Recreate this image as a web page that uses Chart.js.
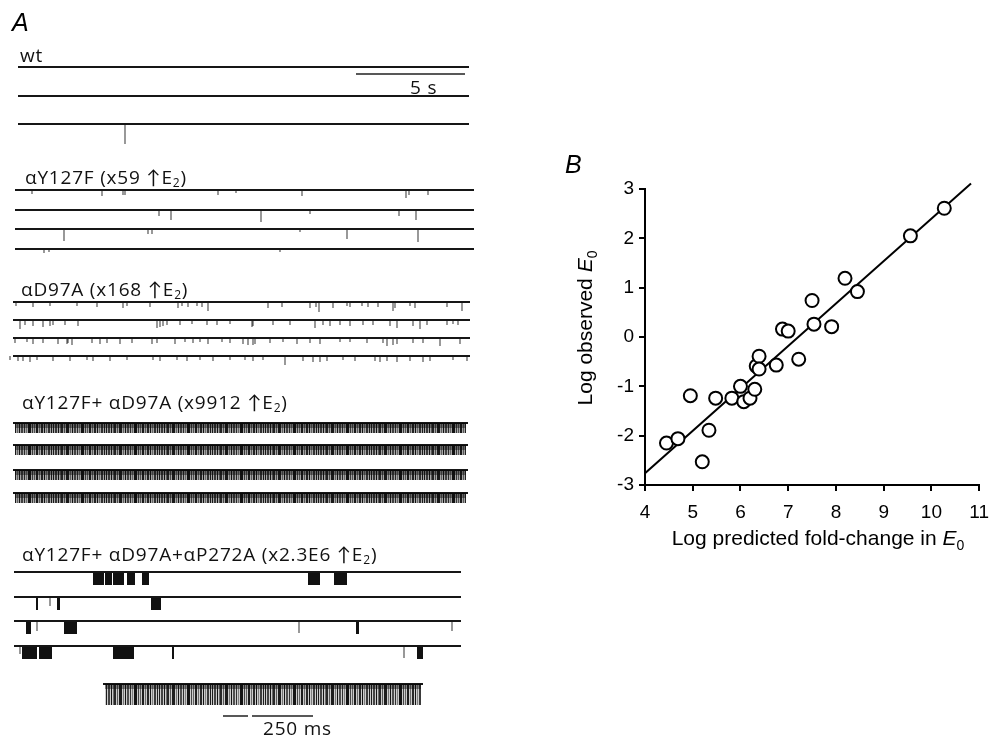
<!DOCTYPE html>
<html>
<head>
<meta charset="utf-8">
<script src="https://cdn.jsdelivr.net/npm/chart.js@4.4.1/dist/chart.umd.min.js"></script>
<style>
  body { margin: 0; background: #fff; }
  #wrap { position: relative; width: 999px; height: 741px; overflow: hidden; }
  canvas { position: absolute; }
  .lbl { position: absolute; font-family: "Open Sans", Lato, sans-serif; font-size: 19px; line-height: 18px; letter-spacing: 0.8px; color: #111; white-space: nowrap; }
  .lbl sub { font-size: 12px; line-height: 0; vertical-align: -3px; }
  .panel { position: absolute; font-family: "Liberation Sans", Arial, sans-serif; font-style: italic; font-size: 25px; line-height: 25px; }
  .axt { position: absolute; font-family: "Liberation Sans", Arial, sans-serif; font-size: 21px; line-height: 21px; white-space: nowrap; transform: translate(-50%, -50%); }
  .axt sub { font-size: 14px; line-height: 0; vertical-align: -5px; }
</style>
</head>
<body>
<div id="wrap">
  <canvas id="traces" width="480" height="741" style="left:0;top:0"></canvas>
  <canvas id="scatter" width="439" height="400" style="left:560px;top:150px"></canvas>

  <div class="panel" style="left:12px;top:10px">A</div>
  <div class="lbl" style="left:20px;top:46px">wt</div>
  <div class="lbl" style="left:410px;top:78px">5 s</div>
  <div class="lbl" style="left:25px;top:168px">αY127F (x59 ↑E<sub>2</sub>)</div>
  <div class="lbl" style="left:21px;top:280px">αD97A (x168 ↑E<sub>2</sub>)</div>
  <div class="lbl" style="left:22px;top:393px">αY127F+ αD97A (x9912 ↑E<sub>2</sub>)</div>
  <div class="lbl" style="left:22px;top:545px">αY127F+ αD97A+αP272A (x2.3E6 ↑E<sub>2</sub>)</div>
  <div class="lbl" style="left:263px;top:719px">250 ms</div>

  <div class="panel" style="left:565px;top:152px">B</div>
  <div class="axt" style="left:818px;top:537px">Log predicted fold-change in <i>E</i><sub>0</sub></div>
  <div class="axt" style="left:584px;top:328px;transform:translate(-50%,-50%) rotate(-90deg)">Log observed <i>E</i><sub>0</sub></div>
</div>

<script>
// ---- panel B data ----
var predX = [4.45, 4.69, 4.95, 5.2, 5.34, 5.48, 5.82, 6.0, 6.07, 6.2, 6.3, 6.33, 6.39, 6.39, 6.75, 6.88, 7.0, 7.22, 7.5, 7.54, 7.91, 8.19, 8.45, 9.56, 10.27];
var obsY = [-2.15, -2.06, -1.19, -2.53, -1.89, -1.24, -1.24, -1.0, -1.31, -1.24, -1.06, -0.59, -0.39, -0.65, -0.57, 0.16, 0.12, -0.45, 0.74, 0.26, 0.21, 1.19, 0.92, 2.05, 2.61];
var fitX = [4, 10.83];
var fitY = [-2.76, 3.11];
var xTicks = [4, 5, 6, 7, 8, 9, 10, 11];
var yTicks = [-3, -2, -1, 0, 1, 2, 3];

// ---- panel A events: [sweep position, amplitude] ----
var wtSpikes = [[], [], [[125, 20]]];
var y127fSpikes = [
    [[32, 4], [102, 6], [123, 5], [125, 5], [218, 5], [236, 3], [302, 6], [406, 8], [409, 5], [428, 5]],
    [[159, 6], [171, 10], [261, 12], [310, 4], [399, 6], [416, 10]],
    [[64, 12], [148, 5], [152, 5], [300, 3], [347, 10], [418, 13]],
    [[44, 4], [49, 3], [280, 3]]
];
var d97aSpikes = [
    [[16, 4], [33, 5], [50, 4], [77, 4], [97, 5], [123, 6], [127, 4], [150, 5], [178, 6], [182, 4], [188, 5], [197, 4], [202, 5], [208, 9], [268, 6], [282, 5], [310, 6], [316, 5], [319, 10], [333, 6], [347, 4], [350, 5], [362, 4], [368, 5], [378, 5], [393, 9], [395, 6], [410, 4], [415, 6], [447, 5], [462, 9]],
    [[20, 9], [25, 5], [33, 6], [43, 7], [50, 6], [53, 5], [65, 5], [78, 6], [157, 8], [160, 7], [163, 6], [167, 5], [180, 5], [192, 4], [207, 5], [217, 5], [230, 4], [252, 7], [253, 6], [273, 5], [290, 5], [315, 8], [323, 5], [330, 6], [340, 5], [350, 6], [363, 5], [373, 5], [390, 6], [397, 8], [413, 6], [420, 9], [427, 5], [447, 5], [453, 4], [458, 5]],
    [[15, 5], [27, 4], [33, 6], [43, 5], [58, 6], [67, 6], [68, 5], [72, 7], [92, 5], [100, 6], [107, 5], [120, 6], [132, 5], [152, 6], [157, 5], [175, 6], [185, 4], [193, 5], [200, 4], [208, 6], [222, 4], [230, 5], [243, 6], [248, 7], [253, 7], [255, 6], [270, 5], [283, 4], [297, 6], [310, 5], [320, 6], [340, 4], [350, 4], [367, 5], [383, 5], [387, 8], [393, 7], [397, 6], [413, 5], [423, 5], [440, 8], [460, 6]],
    [[10, 4], [18, 5], [23, 5], [30, 6], [37, 4], [53, 5], [70, 5], [87, 4], [93, 5], [110, 5], [127, 4], [153, 4], [160, 5], [177, 4], [187, 5], [200, 4], [213, 5], [230, 4], [245, 4], [253, 5], [263, 4], [285, 9], [303, 5], [313, 6], [320, 6], [327, 5], [343, 4], [355, 5], [375, 5], [380, 6], [387, 5], [397, 6], [410, 5], [423, 6], [430, 5], [453, 4], [467, 5]]
];
// bursts of openings in the triple mutant: [start, end]
var burstRuns = [
    [[93, 104], [105, 112], [113, 124], [127, 135], [142, 149], [308, 320], [334, 347]],
    [[36, 38], [57, 60], [151, 161]],
    [[26, 31], [64, 77], [356, 359]],
    [[22, 37], [39, 52], [113, 134], [172, 174], [417, 423]]
];
var burstSpikes = [[], [[50, 9]], [[37, 10], [299, 12], [452, 10]], [[20, 8], [404, 12]]];

// ---- panel A layout: sweep extents and baselines ----
var groups = [
    { x: [18, 469], rows: [67, 96, 124], spikes: wtSpikes },
    { x: [15, 474], rows: [190, 210, 229, 249], spikes: y127fSpikes },
    { x: [13, 470], rows: [302, 320, 338, 356], spikes: d97aSpikes },
    { x: [13, 468], rows: [423, 445, 470, 493], band: 10 },
    { x: [14, 461], rows: [572, 597, 621, 646], spikes: burstSpikes, bursts: burstRuns },
    { x: [103, 423], rows: [684], band: 21 }
];
var scaleBars = [
    { x: [356, 465], y: 74 },
    { x: [223, 248], y: 716 },
    { x: [252, 313], y: 716 }
];

// stripe texture standing in for the unresolved dense openings
function stripes(bg) {
    var c = document.createElement('canvas');
    var marks = [[0, 1, 0.9], [2, 2, 0.7], [5, 1, 0.95], [7, 1, 0.5], [8, 2, 0.85], [11, 1, 0.6], [13, 3, 0.9], [17, 1, 0.45],
        [19, 1, 0.95], [21, 2, 0.65], [24, 1, 0.8], [26, 1, 0.4], [28, 3, 0.95], [32, 1, 0.7], [34, 1, 0.55], [36, 2, 0.9],
        [39, 1, 0.5], [41, 2, 0.85], [44, 1, 0.95], [46, 1, 0.4], [48, 2, 0.75], [51, 1, 0.9]];
    c.width = 53; c.height = 4;
    var g = c.getContext('2d');
    g.fillStyle = 'rgba(0,0,0,' + bg + ')';
    g.fillRect(0, 0, 53, 4);
    marks.forEach(function (m) {
        g.fillStyle = 'rgba(10,10,10,' + m[2] + ')';
        g.fillRect(m[0], 0, m[1], 4);
    });
    return document.getElementById('traces').getContext('2d').createPattern(c, 'repeat');
}

function line(dsData, width, color) {
    return {
        data: dsData, showLine: true, borderColor: color, borderWidth: width,
        borderCapStyle: 'butt', pointRadius: 0, spanGaps: false, tension: 0
    };
}

var bandSmallPts = [], bandBigPts = [], bandTopPts = [], basePts = [], spikePts = [], burstPts = [], barPts = [];
groups.forEach(function (g) {
    g.rows.forEach(function (b, i) {
        if (g.band) {
            var tgt = g.band > 15 ? bandBigPts : bandSmallPts;
            tgt.push({ x: g.x[0] + 2, y: b + g.band / 2 }, { x: g.x[1] - 2, y: b + g.band / 2 }, { x: g.x[1], y: null });
            bandTopPts.push({ x: g.x[0] + 2, y: b + 2.5 }, { x: g.x[1] - 2, y: b + 2.5 }, { x: g.x[1], y: null });
        }
        basePts.push({ x: g.x[0], y: b }, { x: g.x[1], y: b }, { x: g.x[1], y: null });
        (g.spikes ? g.spikes[i] : []).forEach(function (s) {
            spikePts.push({ x: s[0], y: b }, { x: s[0], y: b + s[1] }, { x: s[0], y: null });
        });
        (g.bursts ? g.bursts[i] : []).forEach(function (r) {
            burstPts.push({ x: r[0], y: b + 6.5 }, { x: r[1], y: b + 6.5 }, { x: r[1], y: null });
        });
    });
});
scaleBars.forEach(function (s) {
    barPts.push({ x: s.x[0], y: s.y }, { x: s.x[1], y: s.y }, { x: s.x[1], y: null });
});

new Chart(document.getElementById('traces'), {
    type: 'scatter',
    data: {
        datasets: [
            line(bandSmallPts, 10, stripes(0.35)),
            line(bandBigPts, 21, stripes(0.2)),
            line(bandTopPts, 5, 'rgba(0,0,0,0.4)'),
            line(basePts, 2, '#161616'),
            line(spikePts, 1.2, '#555'),
            line(burstPts, 13, '#111'),
            line(barPts, 1.3, '#222')
        ]
    },
    options: {
        responsive: false,
        animation: false,
        events: [],
        layout: { padding: 0, autoPadding: false },
        plugins: { legend: { display: false }, tooltip: { enabled: false } },
        scales: {
            x: { type: 'linear', display: false, min: 0, max: 480 },
            y: { type: 'linear', display: false, min: 0, max: 741, reverse: true }
        }
    }
});

// ---- panel B ----
new Chart(document.getElementById('scatter'), {
    type: 'scatter',
    data: {
        datasets: [
            {
                data: fitX.map(function (x, i) { return { x: x, y: fitY[i] }; }),
                showLine: true, borderColor: '#000', borderWidth: 2, pointRadius: 0, clip: false, order: 2
            },
            {
                data: predX.map(function (x, i) { return { x: x, y: obsY[i] }; }),
                pointRadius: 6.5, pointBorderWidth: 2, pointBackgroundColor: '#fff',
                pointBorderColor: '#000', clip: false, order: 1
            }
        ]
    },
    options: {
        responsive: false,
        animation: false,
        events: [],
        layout: { padding: { top: 39, right: 11, left: 0, bottom: 0 }, autoPadding: false },
        plugins: { legend: { display: false }, tooltip: { enabled: false } },
        scales: {
            x: {
                type: 'linear', min: xTicks[0], max: xTicks[xTicks.length - 1],
                afterBuildTicks: function (s) { s.ticks = xTicks.map(function (v) { return { value: v }; }); },
                afterFit: function (s) { s.height = 65; },
                ticks: { color: '#000', padding: 10, font: { family: 'Liberation Sans, Arial', size: 19 } },
                grid: { drawOnChartArea: false, drawTicks: true, tickLength: 6, color: '#000', lineWidth: 2 },
                border: { display: true, color: '#000', width: 2 }
            },
            y: {
                type: 'linear', min: yTicks[0], max: yTicks[yTicks.length - 1],
                afterBuildTicks: function (s) { s.ticks = yTicks.map(function (v) { return { value: v }; }); },
                afterFit: function (s) { s.width = 85; },
                ticks: { color: '#000', padding: 5, font: { family: 'Liberation Sans, Arial', size: 19 } },
                grid: { drawOnChartArea: false, drawTicks: true, tickLength: 6, color: '#000', lineWidth: 2 },
                border: { display: true, color: '#000', width: 2 }
            }
        }
    }
});
</script>
</body>
</html>
